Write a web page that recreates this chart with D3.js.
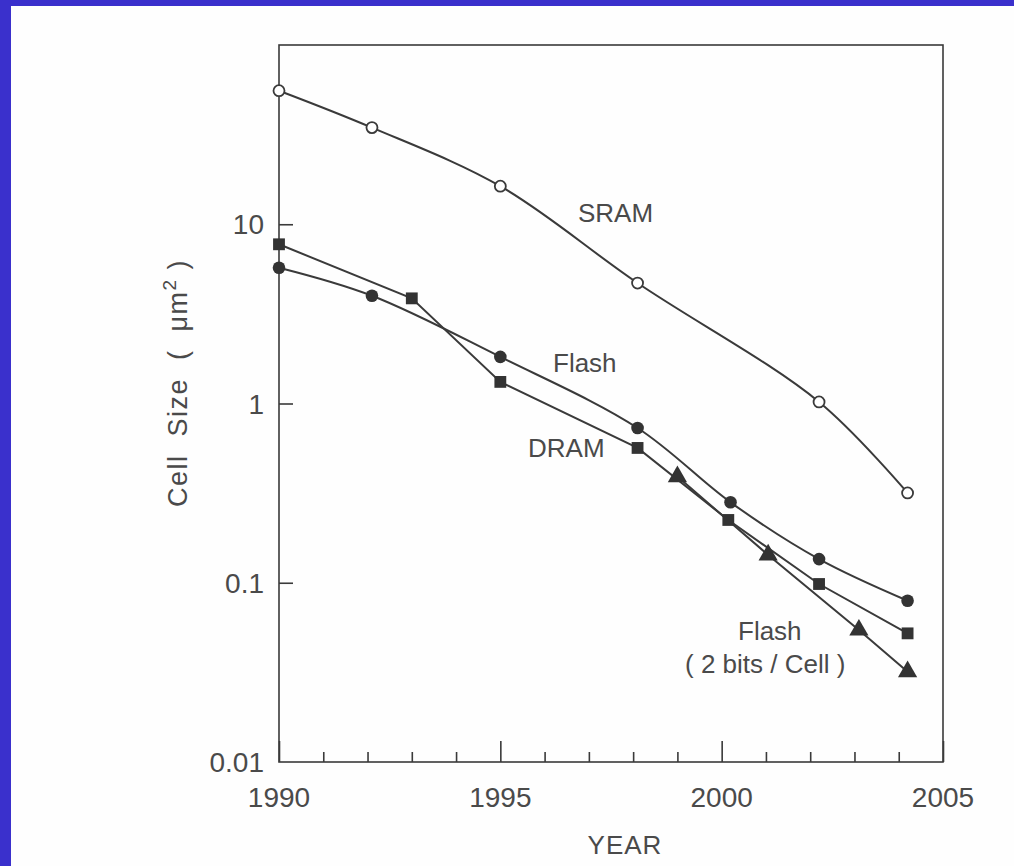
<!DOCTYPE html>
<html>
<head>
<meta charset="utf-8">
<script src="https://cdn.jsdelivr.net/npm/d3@7"></script>
<style>
  html, body { margin: 0; padding: 0; background: #3a30cc; }
  svg { display: block; }
</style>
</head>
<body>
<svg id="chart" width="1014" height="866"></svg>
<script>
// values (year, cell size in um^2)
var sramYears  = [1990, 1992.1, 1995, 1998.1, 2002.2, 2004.2];
var sramSize   = [55.6, 34.6, 16.3, 4.7, 1.02, 0.317];

var flashYears = [1990, 1992.1, 1995, 1998.1, 2000.2, 2002.2, 2004.2];
var flashSize  = [5.72, 3.99, 1.82, 0.73, 0.281, 0.1355, 0.0794];

var dramYears  = [1990, 1993, 1995, 1998.1, 2000.15, 2002.2, 2004.2];
var dramSize   = [7.73, 3.86, 1.32, 0.565, 0.224, 0.0984, 0.0522];

var mlcYears   = [1999, 2001.05, 2003.1, 2004.2];
var mlcSize    = [0.391, 0.143, 0.0545, 0.0319];

var yTickVals  = [0.01, 0.1, 1, 10];
var yTickText  = ['0.01', '0.1', '1', '10'];
var xMajor     = [1990, 1995, 2000, 2005];

var ink = '#3a3a3a';
var textInk = '#4a4a4a';
var font = '"Liberation Sans", Arial, sans-serif';

var svg = d3.select('#chart');

// white page inside the blue slide border
svg.append('rect')
  .attr('x', 11).attr('y', 6)
  .attr('width', 1014 - 11).attr('height', 866 - 6)
  .attr('fill', '#fefefe');

// plot box (note: "top" is reserved on window, so prefixed names)
var plotLeft = 279, plotRight = 943, plotTop = 45, plotBottom = 762;

var x = d3.scaleLinear().domain([1990, 2005]).range([plotLeft, plotRight]);
var y = d3.scaleLog().domain([0.01, 100]).range([plotBottom, plotTop]);

// frame
svg.append('rect')
  .attr('x', plotLeft).attr('y', plotTop)
  .attr('width', plotRight - plotLeft).attr('height', plotBottom - plotTop)
  .attr('fill', 'none').attr('stroke', ink).attr('stroke-width', 1.6);

// x ticks point inward: long at every 5 years, short each year
var xAxis = d3.axisBottom(x)
  .tickValues(d3.range(1990, 2006))
  .tickSize(-10)
  .tickFormat('');
var gx = svg.append('g').attr('transform', 'translate(0,' + plotBottom + ')').call(xAxis);
gx.select('.domain').remove();
gx.selectAll('.tick line')
  .attr('stroke', ink).attr('stroke-width', 1.6)
  .attr('y2', function(d) { return d % 5 === 0 ? -21 : -10; });

svg.append('g').selectAll('text')
  .data(xMajor)
  .join('text')
  .attr('x', function(d) { return x(d); })
  .attr('y', plotBottom + 45)
  .attr('text-anchor', 'middle')
  .attr('font-family', font).attr('font-size', 28)
  .attr('fill', textInk)
  .text(function(d) { return d; });

// y ticks, also inward
var yAxis = d3.axisLeft(y).tickValues(yTickVals.slice(1)).tickSize(-14).tickFormat('');
var gy = svg.append('g').attr('transform', 'translate(' + plotLeft + ',0)').call(yAxis);
gy.select('.domain').remove();
gy.selectAll('.tick line').attr('stroke', ink).attr('stroke-width', 1.6);

svg.append('g').selectAll('text')
  .data(yTickVals)
  .join('text')
  .attr('x', plotLeft - 15)
  .attr('y', function(d) { return y(d) + 10; })
  .attr('text-anchor', 'end')
  .attr('font-family', font).attr('font-size', 28)
  .attr('fill', textInk)
  .text(function(d, i) { return yTickText[i]; });

// axis titles
svg.append('text')
  .attr('x', 625).attr('y', 854)
  .attr('text-anchor', 'middle')
  .attr('font-family', font).attr('font-size', 26)
  .attr('fill', textInk)
  .attr('letter-spacing', 1)
  .text('YEAR');

var ytitle = svg.append('text')
  .attr('transform', 'translate(187,383) rotate(-90)')
  .attr('text-anchor', 'middle')
  .attr('font-family', font).attr('font-size', 27)
  .attr('letter-spacing', 1.5)
  .attr('fill', textInk)
  .attr('xml:space', 'preserve');
ytitle.append('tspan').text('Cell  Size  (  \u03bcm');
ytitle.append('tspan').attr('dy', -11).attr('font-size', 19).text('2');
ytitle.append('tspan').attr('dy', 11).text(' )');

// series
function pts(years, vals) {
  return years.map(function(d, i) { return { year: d, v: vals[i] }; });
}
var sram = pts(sramYears, sramSize);
var flash = pts(flashYears, flashSize);
var dram = pts(dramYears, dramSize);
var mlc = pts(mlcYears, mlcSize);

var smooth = d3.line()
  .x(function(d) { return x(d.year); })
  .y(function(d) { return y(d.v); })
  .curve(d3.curveCatmullRom.alpha(0.5));
var straight = d3.line()
  .x(function(d) { return x(d.year); })
  .y(function(d) { return y(d.v); });

var lines = svg.append('g').attr('fill', 'none').attr('stroke', ink).attr('stroke-width', 2);
lines.append('path').attr('d', smooth(sram));
lines.append('path').attr('d', smooth(flash));
lines.append('path').attr('d', straight(dram));
lines.append('path').attr('d', straight(mlc));

// markers
svg.append('g').selectAll('circle')
  .data(sram).join('circle')
  .attr('cx', function(d) { return x(d.year); })
  .attr('cy', function(d) { return y(d.v); })
  .attr('r', 5.5)
  .attr('fill', '#fff').attr('stroke', ink).attr('stroke-width', 1.8);

svg.append('g').selectAll('circle')
  .data(flash).join('circle')
  .attr('cx', function(d) { return x(d.year); })
  .attr('cy', function(d) { return y(d.v); })
  .attr('r', 6.3)
  .attr('fill', '#333');

svg.append('g').selectAll('path')
  .data(dram).join('path')
  .attr('transform', function(d) { return 'translate(' + x(d.year) + ',' + y(d.v) + ')'; })
  .attr('d', d3.symbol(d3.symbolSquare, 140))
  .attr('fill', '#333');

svg.append('g').selectAll('path')
  .data(mlc).join('path')
  .attr('transform', function(d) { return 'translate(' + x(d.year) + ',' + y(d.v) + ')'; })
  .attr('d', d3.symbol(d3.symbolTriangle, 160))
  .attr('fill', '#333');

// in-plot labels
var labels = [
  { t: 'SRAM', x: 578, y: 222 },
  { t: 'Flash', x: 553, y: 372 },
  { t: 'DRAM', x: 528, y: 457 },
  { t: 'Flash', x: 738, y: 640 },
  { t: '( 2 bits / Cell )', x: 685, y: 673 }
];
svg.append('g').selectAll('text')
  .data(labels).join('text')
  .attr('x', function(d) { return d.x; })
  .attr('y', function(d) { return d.y; })
  .attr('font-family', font).attr('font-size', 26)
  .attr('fill', textInk)
  .attr('xml:space', 'preserve')
  .text(function(d) { return d.t; });
</script>
</body>
</html>
